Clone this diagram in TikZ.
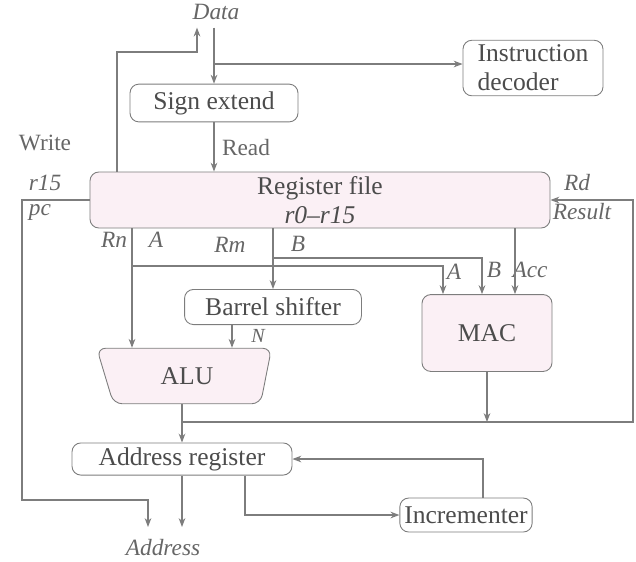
\documentclass[tikz,border=0pt]{standalone}
\usepackage{fontspec}
\setmainfont{Liberation Serif}
\usepackage{tikz}
\usetikzlibrary{shapes,arrows.meta,positioning,calc}
\definecolor{scanGray}{RGB}{125,125,125}
\definecolor{scanPink}{RGB}{251,240,245}

\tikzset{
  unit/.style={draw=scanGray, rounded corners=4pt, fill=white, inner sep=2pt,
               font=\fontsize{11.5}{13}\selectfont, text=black!70},
  bus/.style={draw=scanGray, line width=0.6pt, -{Stealth[length=4pt,width=3pt]}},
  wire/.style={draw=scanGray, line width=0.6pt},
  sig/.style={font=\fontsize{10.5}{12}\selectfont\itshape, text=black!60},
  ctl/.style={font=\fontsize{10.5}{12}\selectfont, text=black!60},
}

\begin{document}
\begin{tikzpicture}[x=0.45pt,y=-0.45pt]
  \useasboundingbox (0,0) rectangle (636,561);

  % units
  \node[unit, minimum width=63pt, minimum height=25pt, align=left] (idec) at (533,68)
       {Instruction\\decoder};
  \node[unit, minimum width=75.6pt, minimum height=17pt] (sign) at (214,103) {Sign extend};
  \node[unit, fill=scanPink, minimum width=207pt, minimum height=24.8pt, align=center]
       (regf) at (320,200) {Register file\\\textit{r0--r15}};
  \node[unit, minimum width=79.6pt, minimum height=15.8pt] (bshift) at (273,307) {Barrel shifter};
  \node[unit, fill=scanPink, minimum width=58.5pt, minimum height=34.6pt] (mac) at (487,333) {MAC};
  \node[unit, fill=scanPink, trapezium, shape border rotate=180, trapezium stretches=true,
        trapezium left angle=80, trapezium right angle=75,
        minimum width=78.8pt, minimum height=25pt] (alu) at (187,376) {ALU};
  \node[unit, minimum width=99pt, minimum height=14.4pt] (areg) at (182,459) {Address register};
  \node[unit, minimum width=59.4pt, minimum height=15.3pt] (inc) at (466,515) {Incrementer};

  % outside signals
  \node[sig] (data) at (216,12) {Data};
  \node[sig] (addr) at (163,548) {Address};
  \node[ctl] (write) at (45,143) {Write};
  \node[ctl] (read) at (246,148) {Read};
  \node[sig] (r15) at (45,183) {r15};
  \node[sig] (pc) at (40,212) {pc};
  \node[sig] (rd) at (577,183) {Rd};
  \node[sig] (result) at (582,212) {Result};
  \node[sig] (rn) at (114,240) {Rn};
  \node[sig] (rnA) at (156,240) {A};
  \node[sig] (rm) at (230,245) {Rm};
  \node[sig] (rmB) at (298,244) {B};
  \node[sig] (macA) at (454,272) {A};
  \node[sig] (macB) at (494,270) {B};
  \node[sig] (macAcc) at (530,270) {Acc};
  \node[sig, font=\fontsize{9}{10}\selectfont\itshape] (nlab) at (258,336) {N};

  \coordinate (wx) at (117,52);
  \coordinate (wt) at (197,52);
  \coordinate (ibr) at (214,64);
  \coordinate (pcd) at (22,500);
  \coordinate (adr1) at (148,527);
  \coordinate (bus) at (182,422);
  \coordinate (busr) at (633,422);
  \coordinate (rnx) at (132,266);
  \coordinate (ain) at (443,0);
  \coordinate (bbr) at (273,258);
  \coordinate (bin) at (482,0);
  \coordinate (acc) at (515,0);
  \coordinate (nx) at (232,0);
  \coordinate (ib) at (245,0);
  \coordinate (ix) at (483,0);

  % data in / out
  \draw[bus] (regf.north -| wx) -- (wx) -- (wt) -- (wt |- data.south);
  \draw[bus] (data.south -| sign.north) -- (sign.north);
  \draw[bus] (ibr) -- (ibr -| idec.west);
  \draw[bus] (sign.south) -- (sign.south |- regf.north);

  % register file read ports
  \draw[bus] (regf.south -| rnx) -- (alu.north -| rnx);
  \draw[bus] (rnx) -| (mac.north -| ain);
  \draw[bus] (regf.south -| bshift.north) -- (bshift.north);
  \draw[bus] (bbr) -| (mac.north -| bin);
  \draw[bus] (regf.south -| acc) -- (mac.north -| acc);
  \draw[bus] (bshift.south -| nx) -- (alu.north -| nx);

  % results back
  \draw[bus] (alu.south -| areg.north) -- (areg.north);
  \draw[bus] (bus) -- (busr) -- (busr |- regf.east) -- (regf.east);
  \draw[bus] (mac.south) -- (mac.south |- bus);

  % address path
  \draw[bus] (regf.west) -| (pcd) -| (adr1);
  \draw[bus] (areg.south) -- (areg.south |- adr1);
  \draw[bus] (areg.south -| ib) |- (inc.west);
  \draw[bus] (inc.north -| ix) |- (areg.east);
\end{tikzpicture}
\end{document}
